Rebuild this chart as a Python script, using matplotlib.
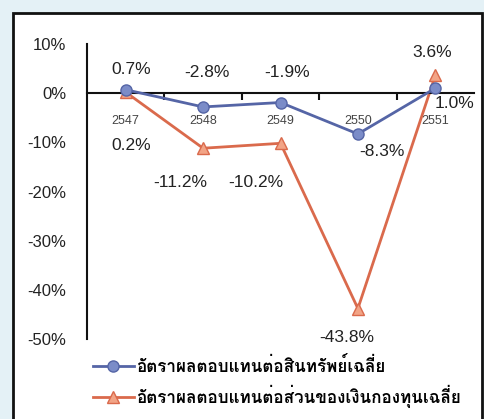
import matplotlib
matplotlib.use('Agg')
import matplotlib.pyplot as plt
from matplotlib import font_manager
from matplotlib.ft2font import FT2Font
from matplotlib.patches import Rectangle
import numpy as np

years = ['2547', '2548', '2549', '2550', '2551']
roa = [0.7, -2.8, -1.9, -8.3, 1.0]
roe = [0.2, -11.2, -10.2, -43.8, 3.6]
roa_name = 'อัตราผลตอบแทนต่อสินทรัพย์เฉลี่ย'
roe_name = 'อัตราผลตอบแทนต่อส่วนของเงินกองทุนเฉลี่ย'
yticks = [10, 0, -10, -20, -30, -40, -50]

blue = '#5565A6'
blue_fill = '#7B8CC8'
orange = '#DA6A4C'
orange_fill = '#F2A486'


def thai_family():
    # first installed family that actually has Thai glyphs
    for f in font_manager.fontManager.ttflist:
        try:
            cmap = FT2Font(f.fname).get_charmap()
        except Exception:
            continue
        if 0x0E2D in cmap and 0x0E31 in cmap:
            return f.name
    return None


thai = thai_family()
fam = [thai, 'DejaVu Sans'] if thai else ['DejaVu Sans']
plt.rcParams['font.family'] = ['Liberation Sans', 'DejaVu Sans']

fig = plt.figure(figsize=(4.84, 4.19), dpi=100, facecolor='#E4F1F6')
# white panel with black border, behind the axes
fig.patches.append(Rectangle((13 / 484, -0.05), (482 - 13) / 484, 1 - 13 / 419 + 0.05,
                             transform=fig.transFigure, facecolor='white',
                             edgecolor='#111111', linewidth=2, zorder=-5))

ax = fig.add_axes([87 / 484, 1 - 339 / 419, (474 - 87) / 484, 295 / 419])
ax.set_facecolor('none')

x = np.arange(len(years))
ax.plot(x, roa, color=blue, lw=2, marker='o', ms=8, mfc=blue_fill, mec=blue,
        label=roa_name, zorder=3)
ax.plot(x, roe, color=orange, lw=2, marker='^', ms=8, mfc=orange_fill, mec=orange,
        label=roe_name, zorder=2)

ax.set_xlim(-0.5, len(years) - 0.5)
ax.set_ylim(-50, 10)

for s in ['top', 'right']:
    ax.spines[s].set_visible(False)
ax.spines['bottom'].set_position(('data', 0))
ax.spines['bottom'].set_color('#111111')
ax.spines['left'].set_color('#111111')
ax.spines['bottom'].set_linewidth(1.5)
ax.spines['left'].set_linewidth(1.5)

ax.set_yticks(yticks)
ax.set_yticklabels([f'{v}%' for v in yticks], fontsize=12, color='#222222')
ax.tick_params(axis='y', length=0, pad=15)

ax.set_xticks(x)
ax.set_xticklabels(years, fontsize=9, color='#444444')
ax.set_xticks(np.arange(0.5, len(years) - 0.5), minor=True)
ax.tick_params(axis='x', which='major', length=0, pad=16)
ax.tick_params(axis='x', which='minor', length=5, width=1.5, color='#111111', direction='out')

# data labels: (dx, dy) offsets in pixels
roa_off = [(5, 20), (4, 34), (7, 30), (24, -18), (19, -15)]
roe_off = [(5, -53), (-23, -34), (-25, -39), (-11, -29), (-3, 23)]
for xi, v, (dx, dy) in zip(x, roa, roa_off):
    ax.annotate(f'{v:.1f}%', (xi, v), xytext=(dx, dy), textcoords='offset pixels',
                ha='center', va='center', fontsize=12.5, color='#222222')
for xi, v, (dx, dy) in zip(x, roe, roe_off):
    ax.annotate(f'{v:.1f}%', (xi, v), xytext=(dx, dy), textcoords='offset pixels',
                ha='center', va='center', fontsize=12.5, color='#222222')

leg = fig.legend(loc='upper left', bbox_to_anchor=(86 / 484, 1 - 349 / 419),
                 frameon=False, prop={'family': fam, 'size': 12.3, 'weight': 'bold'},
                 handlelength=2.4, handletextpad=0.1, labelspacing=0.6,
                 borderaxespad=0)

fig.savefig('out.png', dpi=100, facecolor=fig.get_facecolor())
